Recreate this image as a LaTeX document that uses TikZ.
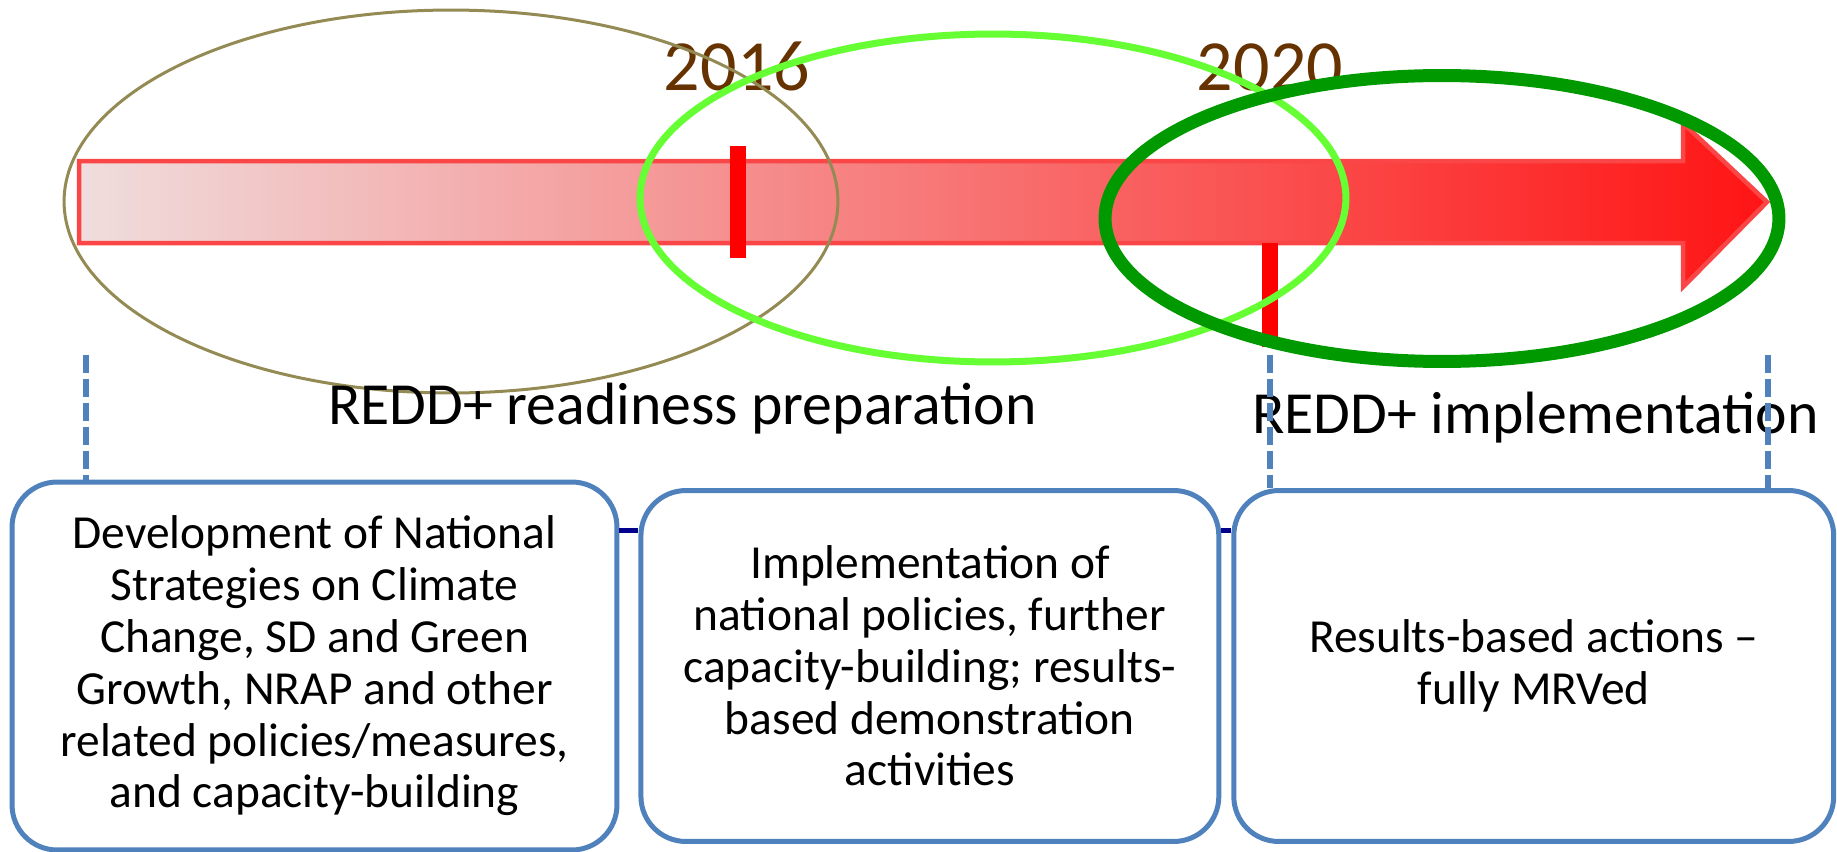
\documentclass[tikz,border=0pt]{standalone}
\usepackage{fontspec}
\setmainfont{Carlito}
\usepackage{xcolor}
\usepackage{tikz}
\usetikzlibrary{positioning}

\definecolor{olivering}{RGB}{148,138,84}
\definecolor{limering}{RGB}{102,255,51}
\definecolor{darkring}{RGB}{0,153,0}
\definecolor{yearbrown}{RGB}{102,51,0}
\definecolor{boxblue}{RGB}{79,129,189}
\definecolor{linknavy}{RGB}{0,0,140}
\definecolor{arrowedge}{RGB}{250,70,70}
\definecolor{shadelight}{RGB}{240,221,221}
\definecolor{shademid}{RGB}{247,171,171}
\definecolor{shadedark}{RGB}{255,20,20}

\begin{document}
\begin{tikzpicture}[x=0.02cm, y=-0.02cm,
    year/.style={text=yearbrown, font=\fontsize{41}{45}\selectfont, inner sep=0pt},
    phase/.style={font=\fontsize{34}{38}\selectfont, inner sep=0pt},
    stagebox/.style={draw=boxblue, line width=0.1cm, rounded corners=0.9cm, fill=white, align=center, inner sep=0pt, font=\fontsize{27}{29.5}\selectfont},
    marker/.style={red, line width=0.32cm},
    guide/.style={boxblue, line width=0.12cm, dash pattern=on 0.36cm off 0.12cm},
    link/.style={linknavy, line width=0.1cm}]
        \useasboundingbox (0,0) rectangle (1837,852);

        % Timeline arrow
        \draw[draw=arrowedge, line width=0.09cm, left color=shadelight, middle color=shademid, right color=shadedark]
            (79,161) -- (1683,161) -- (1683,123) -- (1767,202) -- (1683,287) -- (1683,243) -- (79,243) -- cycle;

        % Year markers
        \draw[marker] (738,146) -- (738,258);
        \draw[marker] (1270,243) -- (1270,347);
        \node (y2016) [year, anchor=base] at (737,90) {2016};
        \node (y2020) [year, anchor=base] at (1270,90) {2020};

        % Phase rings
        \draw[olivering, line width=0.06cm] (451,201.5) ellipse [x radius=7.74cm, y radius=3.83cm];
        \draw[limering, line width=0.14cm] (993,198) ellipse [x radius=7.06cm, y radius=3.28cm];
        \draw[darkring, line width=0.26cm] (1442,218.5) ellipse [x radius=6.74cm, y radius=2.86cm];

        % Phase labels
        \node (readiness) [phase, anchor=base west] at (328,424) {REDD+ readiness preparation};
        \node (implementation) [phase, anchor=base west] at (1252,433) {REDD+ implementation};

        % Boxes
        \node (devbox) [stagebox, minimum width=12.1cm, minimum height=7.36cm] at (314.5,666)
            {Development of National\\Strategies on Climate\\Change, SD and Green\\Growth, NRAP and other\\related policies/measures,\\and capacity-building};
        \node (policybox) [stagebox, right=0.38cm of devbox, minimum width=11.56cm, minimum height=7.02cm]
            {Implementation of\\national policies, further\\capacity-building; results-\\based demonstration\\activities};
        \node (resultbox) [stagebox, right=0.2cm of policybox, minimum width=12cm, minimum height=7.02cm]
            {Results-based actions --\\fully MRVed};

        % Dashed guides
        \coordinate (startguide) at (86,355);
        \coordinate (midguide) at (1270,355);
        \coordinate (endguide) at (1768,355);
        \draw[guide] (startguide) -- (startguide |- devbox.north);
        \draw[guide] (midguide) -- (midguide |- resultbox.north);
        \draw[guide] (endguide) -- (endguide |- resultbox.north);

        % Links between boxes
        \coordinate (linkrow) at (0,530);
        \draw[link] (devbox.east |- linkrow) -- (policybox.west |- linkrow);
        \draw[link] (policybox.east |- linkrow) -- (resultbox.west |- linkrow);

\end{tikzpicture}
\end{document}
